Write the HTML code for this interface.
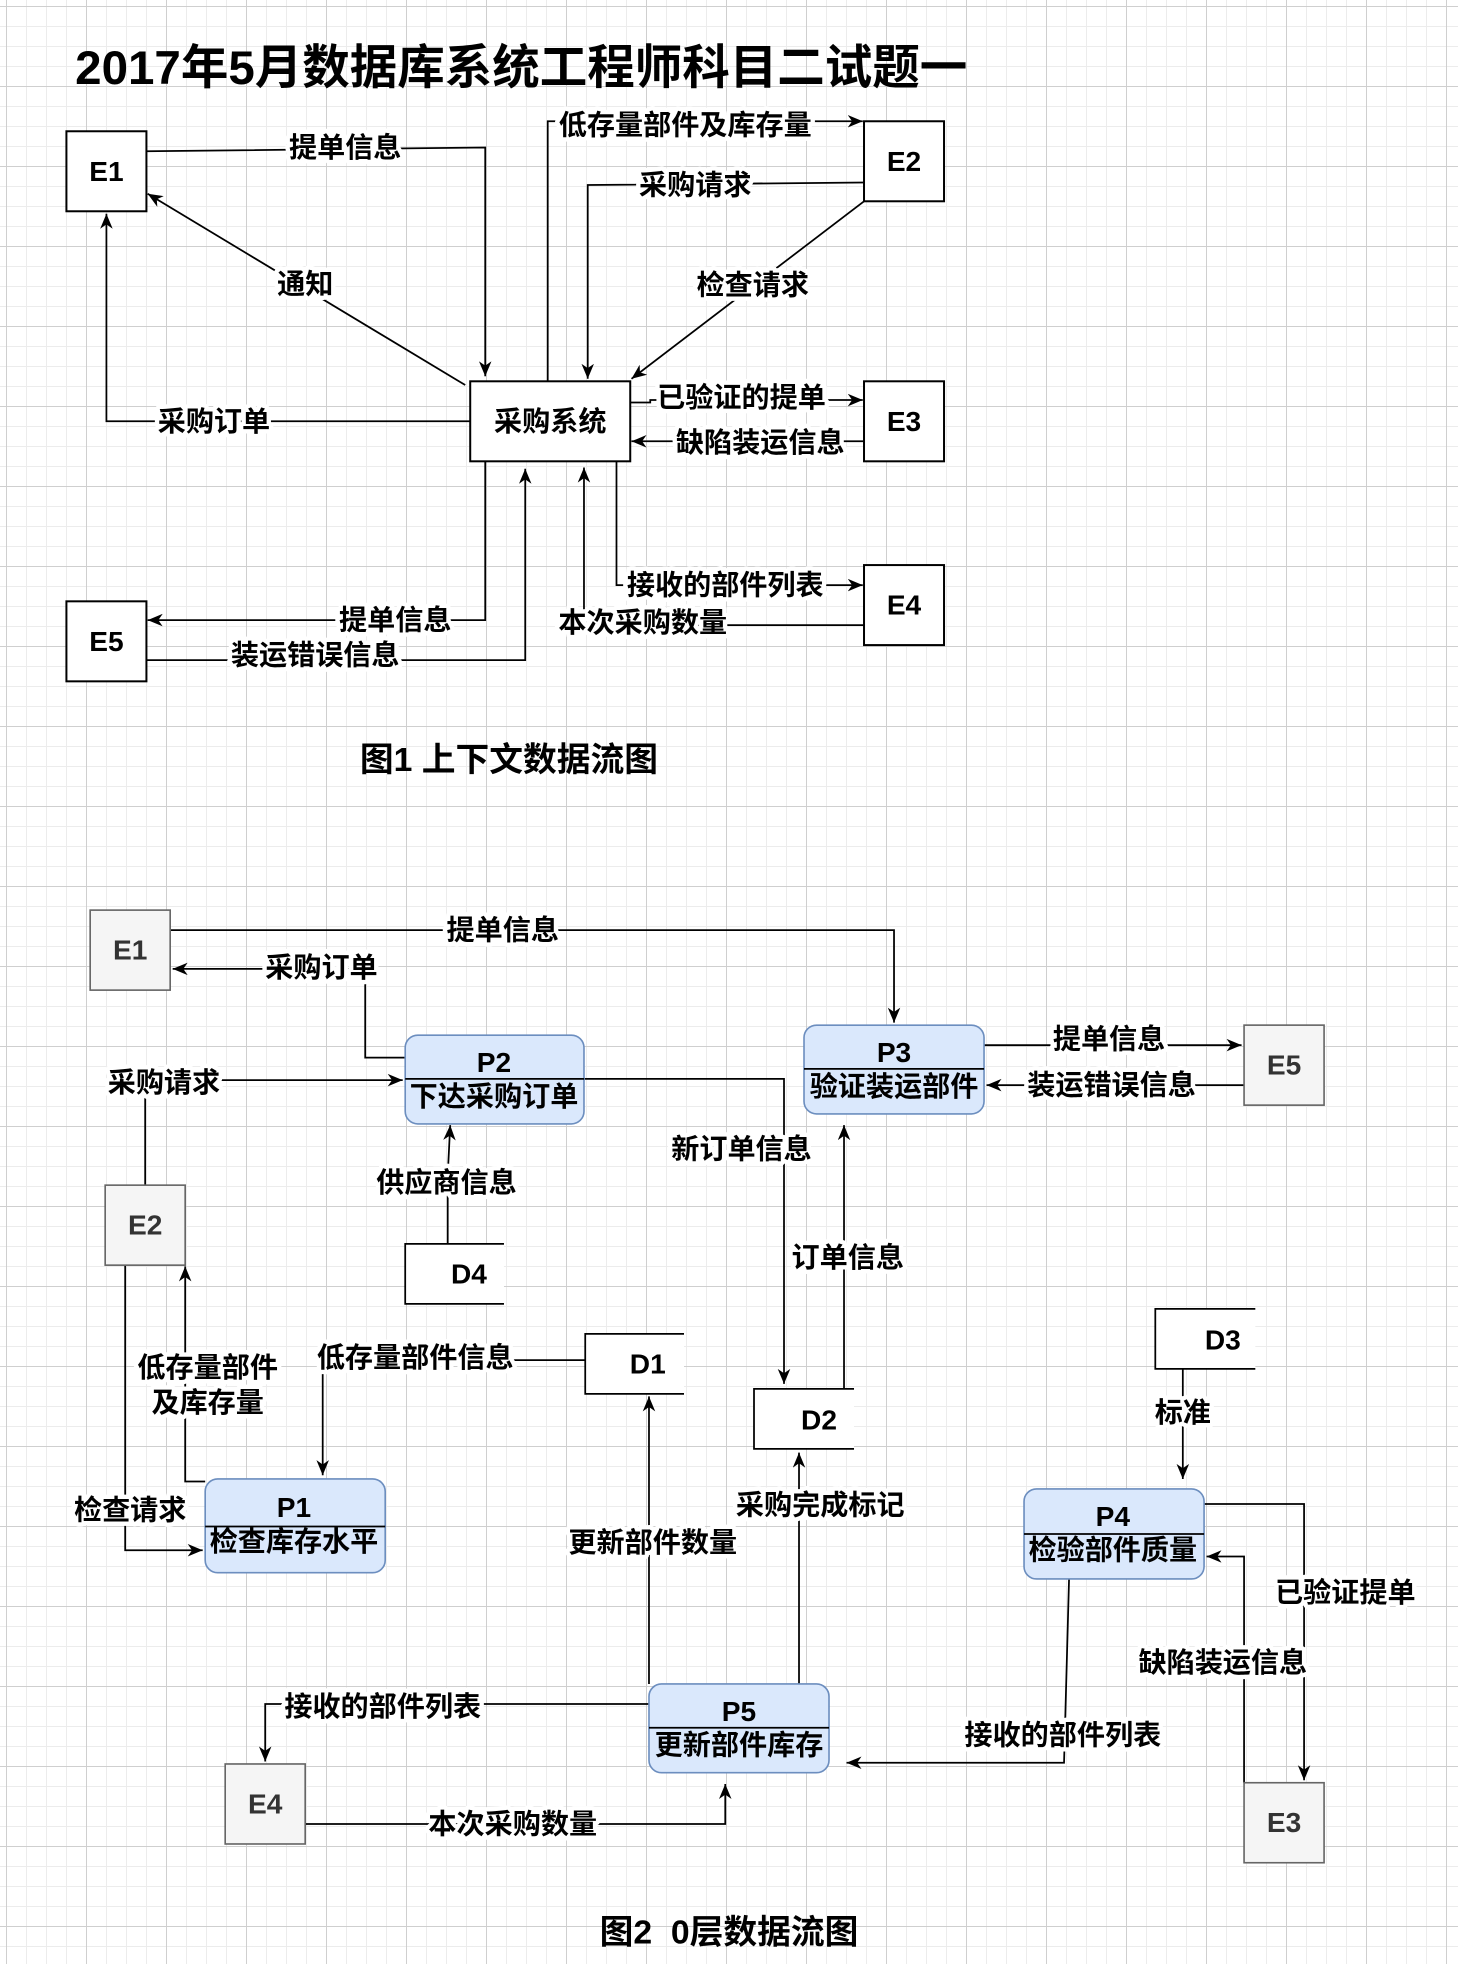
<!DOCTYPE html>
<html><head><meta charset="utf-8">
<style>
html,body{margin:0;padding:0;}
body{width:1458px;height:1964px;overflow:hidden;background-color:#fff;
background-image:
linear-gradient(#cfcfcf 1px,transparent 1px),
linear-gradient(90deg,#cfcfcf 1px,transparent 1px),
linear-gradient(#ececec 1px,transparent 1px),
linear-gradient(90deg,#ececec 1px,transparent 1px);
background-size:80px 80px,80px 80px,20px 20px,20px 20px;
background-position:6px 6px,6px 6px,6px 6px,6px 6px;}
svg{position:absolute;left:0;top:0;}
text{font-family:"Liberation Sans","Noto Sans CJK SC",sans-serif;font-weight:bold;fill:#000;}
.l{font-size:22.5px;text-anchor:middle;dominant-baseline:central;stroke:#fff;stroke-width:7px;paint-order:stroke;stroke-linejoin:round;}
.b{font-size:22.5px;text-anchor:middle;dominant-baseline:central;}
.e{fill:#fff;stroke:#000;stroke-width:1.6;}
.g{fill:#f5f5f5;stroke:#666;stroke-width:1.3;}
.p{fill:#dae8fc;stroke:#6c8ebf;stroke-width:1.3;}
.w{fill:none;stroke:#000;stroke-width:1.4;}
.a{fill:none;stroke:#000;stroke-width:1.4;marker-end:url(#ar);}
</style></head><body>
<svg width="1458" height="1964" viewBox="0 0 1166 1571">
<defs><marker id="ar" markerUnits="userSpaceOnUse" markerWidth="14" markerHeight="12" refX="12" refY="5" orient="auto"><path d="M0,0 L12,5 L0,10 L3.5,5 z" fill="#000"/></marker></defs>
<text x="60" y="67" style="font-size:38px">2017年5月数据库系统工程师科目二试题一</text>

<!-- Figure 1 -->
<polyline class="a" points="117,121 388,118 388,301"/>
<line class="a" x1="372" y1="308" x2="118" y2="155"/>
<polyline class="a" points="376,337 85,337 85,171"/>
<polyline class="a" points="438,305 438,97 690,97"/>
<polyline class="a" points="691,146 470,148 470,303"/>
<line class="a" x1="691" y1="161" x2="505" y2="303"/>
<polyline class="a" points="504,322 520,322 520,320 690,320"/>
<line class="a" x1="691" y1="353" x2="505" y2="353"/>
<polyline class="a" points="493,369 493,468 690,468"/>
<polyline class="a" points="691,500 467,500 467,374"/>
<polyline class="a" points="388,369 388,496 118,496"/>
<polyline class="a" points="117,528 420,528 420,375"/>
<rect class="e" x="53" y="105" width="64" height="64"/><text class="b" x="85" y="137">E1</text>
<rect class="e" x="691" y="97" width="64" height="64"/><text class="b" x="723" y="129">E2</text>
<rect class="e" x="691" y="305" width="64" height="64"/><text class="b" x="723" y="337">E3</text>
<rect class="e" x="691" y="452" width="64" height="64"/><text class="b" x="723" y="484">E4</text>
<rect class="e" x="53" y="481" width="64" height="64"/><text class="b" x="85" y="513">E5</text>
<rect class="e" x="376" y="305" width="128" height="64"/><text class="b" x="440" y="337">采购系统</text>
<text class="l" x="276" y="118">提单信息</text>
<text class="l" x="244" y="227">通知</text>
<text class="l" x="171" y="337">采购订单</text>
<text class="l" x="548" y="100">低存量部件及库存量</text>
<text class="l" x="556" y="148">采购请求</text>
<text class="l" x="602" y="228">检查请求</text>
<text class="l" x="593" y="318">已验证的提单</text>
<text class="l" x="608" y="354">缺陷装运信息</text>
<text class="l" x="580" y="468">接收的部件列表</text>
<text class="l" x="514" y="498">本次采购数量</text>
<text class="l" x="316" y="496">提单信息</text>
<text class="l" x="252" y="524">装运错误信息</text>
<text x="407" y="608" style="font-size:27px;text-anchor:middle;dominant-baseline:central">图1 上下文数据流图</text>

<!-- Figure 2 edges -->
<polyline class="a" points="136,744 715,744 715,818"/>
<polyline class="a" points="324,846 292,846 292,775 138,775"/>
<polyline class="a" points="116,948 116,864 322,864"/>
<polyline class="a" points="467,863 627,863 627,1107"/>
<polyline class="a" points="675,1111 675,900"/>
<polyline class="a" points="358,995 358,940 360,900"/>
<polyline class="a" points="787,836 993,836"/>
<polyline class="a" points="995,868 789,868"/>
<polyline class="a" points="164,1185 148,1185 148,1013"/>
<polyline class="a" points="100,1012 100,1240 162,1240"/>
<polyline class="a" points="468,1088 258,1088 258,1180"/>
<polyline class="a" points="519,1347 519,1117"/>
<polyline class="a" points="639,1347 639,1162"/>
<polyline class="a" points="946,1095 946,1183"/>
<polyline class="a" points="963,1203 1043,1203 1043,1424"/>
<polyline class="a" points="995,1426 995,1245 965,1245"/>
<polyline class="a" points="855,1263 851,1410 677,1410"/>
<polyline class="a" points="519,1363 212,1363 212,1409"/>
<polyline class="a" points="244,1459 580,1459 580,1427"/>

<!-- Figure 2 nodes -->
<rect class="g" x="72" y="728" width="64" height="64"/><text class="b" x="104" y="760" style="fill:#333">E1</text>
<rect class="g" x="995" y="820" width="64" height="64"/><text class="b" x="1027" y="852" style="fill:#333">E5</text>
<rect class="g" x="84" y="948" width="64" height="64"/><text class="b" x="116" y="980" style="fill:#333">E2</text>
<rect class="g" x="180" y="1411" width="64" height="64"/><text class="b" x="212" y="1443" style="fill:#333">E4</text>
<rect class="g" x="995" y="1426" width="64" height="64"/><text class="b" x="1027" y="1458" style="fill:#333">E3</text>

<rect class="p" x="324" y="828" width="143" height="71" rx="10"/><line class="w" x1="324" y1="863" x2="467" y2="863"/>
<text class="b" x="395" y="850">P2</text><text class="b" x="395" y="877">下达采购订单</text>
<rect class="p" x="643" y="820" width="144" height="71" rx="10"/><line class="w" x1="643" y1="855" x2="787" y2="855"/>
<text class="b" x="715" y="842">P3</text><text class="b" x="715" y="869">验证装运部件</text>
<rect class="p" x="164" y="1183" width="144" height="75" rx="10"/><line class="w" x1="164" y1="1221" x2="308" y2="1221"/>
<text class="b" x="235" y="1206">P1</text><text class="b" x="235" y="1233">检查库存水平</text>
<rect class="p" x="819" y="1191" width="144" height="72" rx="10"/><line class="w" x1="819" y1="1227" x2="963" y2="1227"/>
<text class="b" x="890" y="1213">P4</text><text class="b" x="890" y="1240">检验部件质量</text>
<rect class="p" x="519" y="1347" width="144" height="71" rx="10"/><line class="w" x1="519" y1="1382" x2="663" y2="1382"/>
<text class="b" x="591" y="1369">P5</text><text class="b" x="591" y="1396">更新部件库存</text>

<rect x="324" y="995" width="79" height="48" fill="#fff"/><polyline class="w" points="403,995 324,995 324,1043 403,1043"/><text class="b" x="375" y="1019">D4</text>
<rect x="468" y="1067" width="79" height="48" fill="#fff"/><polyline class="w" points="547,1067 468,1067 468,1115 547,1115"/><text class="b" x="518" y="1091">D1</text>
<rect x="603" y="1111" width="80" height="48" fill="#fff"/><polyline class="w" points="683,1111 603,1111 603,1159 683,1159"/><text class="b" x="655" y="1136">D2</text>
<rect x="924" y="1047" width="80" height="48" fill="#fff"/><polyline class="w" points="1004,1047 924,1047 924,1095 1004,1095"/><text class="b" x="978" y="1072">D3</text>

<!-- Figure 2 labels -->
<text class="l" x="402" y="744">提单信息</text>
<text class="l" x="257" y="774">采购订单</text>
<text class="l" x="131" y="866">采购请求</text>
<text class="l" x="593" y="919">新订单信息</text>
<text class="l" x="678" y="1006">订单信息</text>
<text class="l" x="357" y="946">供应商信息</text>
<text class="l" x="887" y="831">提单信息</text>
<text class="l" x="889" y="868">装运错误信息</text>
<text class="l" x="166" y="1094">低存量部件</text>
<text class="l" x="166" y="1122">及库存量</text>
<text class="l" x="104" y="1208">检查请求</text>
<text class="l" x="332" y="1086">低存量部件信息</text>
<text class="l" x="522" y="1234">更新部件数量</text>
<text class="l" x="656" y="1204">采购完成标记</text>
<text class="l" x="946" y="1130">标准</text>
<text class="l" x="1076" y="1274">已验证提单</text>
<text class="l" x="978" y="1330">缺陷装运信息</text>
<text class="l" x="850" y="1388">接收的部件列表</text>
<text class="l" x="306" y="1365">接收的部件列表</text>
<text class="l" x="410" y="1459">本次采购数量</text>
<text x="583" y="1546" style="font-size:27px;text-anchor:middle;dominant-baseline:central">图2&#160; 0层数据流图</text>
</svg>
</body></html>
